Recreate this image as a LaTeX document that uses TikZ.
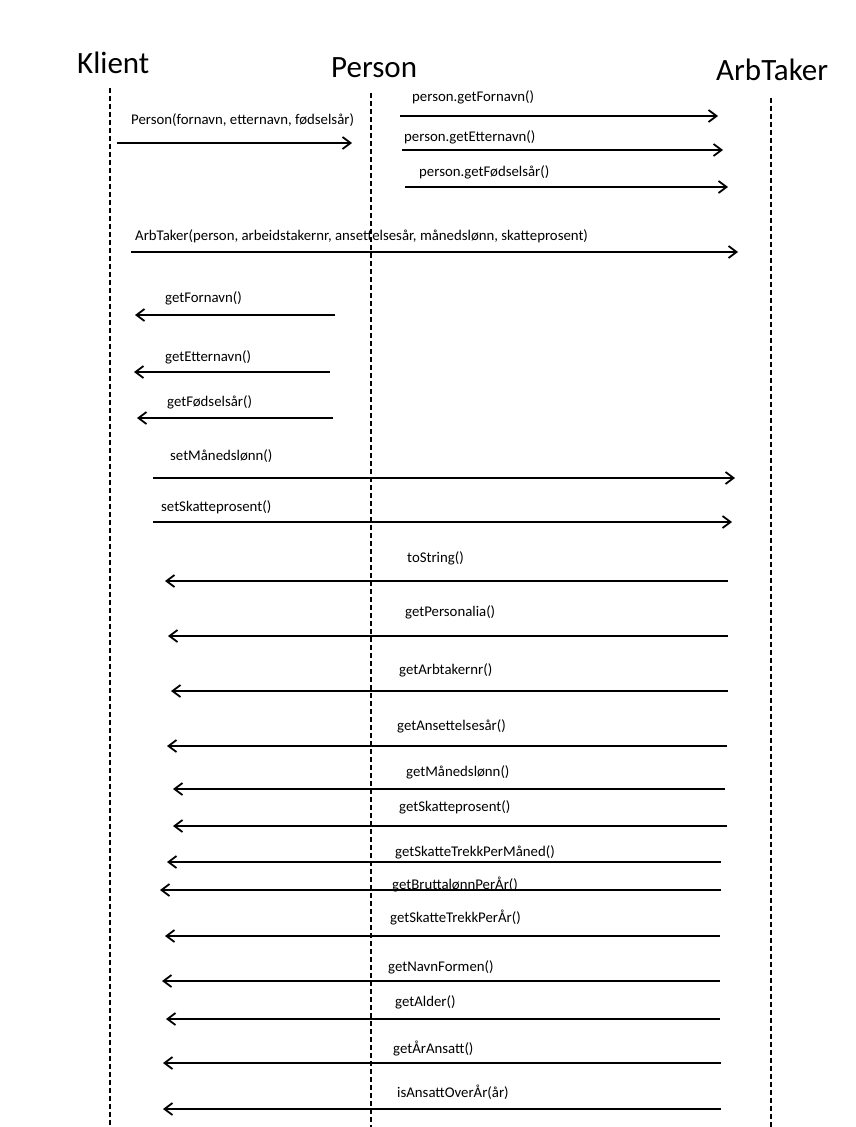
\documentclass[tikz,border=0pt]{standalone}
\usepackage{fontspec}
\setmainfont{Carlito}
\usetikzlibrary{arrows.meta}
\begin{document}
\begin{tikzpicture}
[every node/.style={inner sep=0pt},
 lifeline/.style={line width=1.5pt, dash pattern=on 5pt off 3pt},
 msg/.style={line width=1.8pt, -{Straight Barb[length=8pt, width=12pt]}},
 actor/.style={font=\fontsize{31}{37}\selectfont, anchor=base west},
 msglabel/.style={font=\fontsize{14.8}{18}\selectfont, anchor=west}]
\useasboundingbox (0pt, 0pt) rectangle (856pt, -1127pt);
% actors and lifelines
\node (klient) [actor] at (77.0pt, -73.0pt) {Klient};
\node (person) [actor] at (331.0pt, -77.0pt) {Person};
\node (arbtaker) [actor] at (716.0pt, -80.0pt) {ArbTaker};
\coordinate (klientTop) at (110.0pt, -88.0pt);
\coordinate (klientBot) at (110.0pt, -1127.0pt);
\coordinate (personTop) at (371.0pt, -93.0pt);
\coordinate (personBot) at (371.0pt, -1127.0pt);
\coordinate (arbtakerTop) at (771.0pt, -98.0pt);
\coordinate (arbtakerBot) at (771.0pt, -1127.0pt);
\draw [lifeline] (klientTop) -- (klientBot);
\draw [lifeline] (personTop) -- (personBot);
\draw [lifeline] (arbtakerTop) -- (arbtakerBot);
% messages
\coordinate (m1a) at (117.0pt, -143.0pt);
\coordinate (m1b) at (352.0pt, -143.0pt);
\node (l1) [msglabel] at (131.0pt, -120.0pt) {Person(fornavn, etternavn, fødselsår)};
\draw [msg] (m1a) -- (m1b);
\coordinate (m2a) at (400.0pt, -116.0pt);
\coordinate (m2b) at (718.0pt, -116.0pt);
\node (l2) [msglabel] at (412.0pt, -97.0pt) {person.getFornavn()};
\draw [msg] (m2a) -- (m2b);
\coordinate (m3a) at (402.0pt, -150.0pt);
\coordinate (m3b) at (723.0pt, -150.0pt);
\node (l3) [msglabel] at (404.0pt, -137.0pt) {person.getEtternavn()};
\draw [msg] (m3a) -- (m3b);
\coordinate (m4a) at (405.0pt, -187.0pt);
\coordinate (m4b) at (728.0pt, -187.0pt);
\node (l4) [msglabel] at (419.0pt, -172.0pt) {person.getFødselsår()};
\draw [msg] (m4a) -- (m4b);
\coordinate (m5a) at (131.0pt, -252.0pt);
\coordinate (m5b) at (738.0pt, -252.0pt);
\node (l5) [msglabel] at (135.0pt, -236.0pt) {ArbTaker(person, arbeidstakernr, ansettelsesår, månedslønn, skatteprosent)};
\draw [msg] (m5a) -- (m5b);
\coordinate (m6a) at (335.0pt, -315.0pt);
\coordinate (m6b) at (135.0pt, -315.0pt);
\node (l6) [msglabel] at (165.0pt, -298.0pt) {getFornavn()};
\draw [msg] (m6a) -- (m6b);
\coordinate (m7a) at (330.0pt, -372.0pt);
\coordinate (m7b) at (134.0pt, -372.0pt);
\node (l7) [msglabel] at (165.0pt, -357.0pt) {getEtternavn()};
\draw [msg] (m7a) -- (m7b);
\coordinate (m8a) at (333.0pt, -418.0pt);
\coordinate (m8b) at (137.0pt, -418.0pt);
\node (l8) [msglabel] at (167.0pt, -402.0pt) {getFødselsår()};
\draw [msg] (m8a) -- (m8b);
\coordinate (m9a) at (153.0pt, -478.0pt);
\coordinate (m9b) at (735.0pt, -478.0pt);
\node (l9) [msglabel] at (170.0pt, -456.0pt) {setMånedslønn()};
\draw [msg] (m9a) -- (m9b);
\coordinate (m10a) at (153.0pt, -522.0pt);
\coordinate (m10b) at (732.0pt, -522.0pt);
\node (l10) [msglabel] at (161.0pt, -507.0pt) {setSkatteprosent()};
\draw [msg] (m10a) -- (m10b);
\coordinate (m11a) at (728.0pt, -581.0pt);
\coordinate (m11b) at (165.0pt, -581.0pt);
\node (l11) [msglabel] at (407.0pt, -558.0pt) {toString()};
\draw [msg] (m11a) -- (m11b);
\coordinate (m12a) at (728.0pt, -636.0pt);
\coordinate (m12b) at (168.0pt, -636.0pt);
\node (l12) [msglabel] at (405.0pt, -612.0pt) {getPersonalia()};
\draw [msg] (m12a) -- (m12b);
\coordinate (m13a) at (728.0pt, -691.0pt);
\coordinate (m13b) at (171.0pt, -691.0pt);
\node (l13) [msglabel] at (399.0pt, -670.0pt) {getArbtakernr()};
\draw [msg] (m13a) -- (m13b);
\coordinate (m14a) at (727.0pt, -746.0pt);
\coordinate (m14b) at (167.0pt, -746.0pt);
\node (l14) [msglabel] at (397.0pt, -726.0pt) {getAnsettelsesår()};
\draw [msg] (m14a) -- (m14b);
\coordinate (m15a) at (725.0pt, -789.0pt);
\coordinate (m15b) at (173.0pt, -789.0pt);
\node (l15) [msglabel] at (406.0pt, -772.0pt) {getMånedslønn()};
\draw [msg] (m15a) -- (m15b);
\coordinate (m16a) at (727.0pt, -826.0pt);
\coordinate (m16b) at (173.0pt, -826.0pt);
\node (l16) [msglabel] at (399.0pt, -807.0pt) {getSkatteprosent()};
\draw [msg] (m16a) -- (m16b);
\coordinate (m17a) at (721.0pt, -862.0pt);
\coordinate (m17b) at (167.0pt, -862.0pt);
\node (l17) [msglabel] at (395.0pt, -852.0pt) {getSkatteTrekkPerMåned()};
\draw [msg] (m17a) -- (m17b);
\coordinate (m18a) at (721.0pt, -890.0pt);
\coordinate (m18b) at (160.0pt, -890.0pt);
\node (l18) [msglabel] at (392.0pt, -884.0pt) {getBruttalønnPerÅr()};
\draw [msg] (m18a) -- (m18b);
\coordinate (m19a) at (720.0pt, -936.0pt);
\coordinate (m19b) at (165.0pt, -936.0pt);
\node (l19) [msglabel] at (390.0pt, -917.0pt) {getSkatteTrekkPerÅr()};
\draw [msg] (m19a) -- (m19b);
\coordinate (m20a) at (720.0pt, -981.0pt);
\coordinate (m20b) at (162.0pt, -981.0pt);
\node (l20) [msglabel] at (388.0pt, -967.0pt) {getNavnFormen()};
\draw [msg] (m20a) -- (m20b);
\coordinate (m21a) at (720.0pt, -1019.0pt);
\coordinate (m21b) at (166.0pt, -1019.0pt);
\node (l21) [msglabel] at (395.0pt, -1002.0pt) {getAlder()};
\draw [msg] (m21a) -- (m21b);
\coordinate (m22a) at (721.0pt, -1063.0pt);
\coordinate (m22b) at (163.0pt, -1063.0pt);
\node (l22) [msglabel] at (393.0pt, -1048.0pt) {getÅrAnsatt()};
\draw [msg] (m22a) -- (m22b);
\coordinate (m23a) at (721.0pt, -1109.0pt);
\coordinate (m23b) at (163.0pt, -1109.0pt);
\node (l23) [msglabel] at (397.0pt, -1092.0pt) {isAnsattOverÅr(år)};
\draw [msg] (m23a) -- (m23b);
\end{tikzpicture}
\end{document}
